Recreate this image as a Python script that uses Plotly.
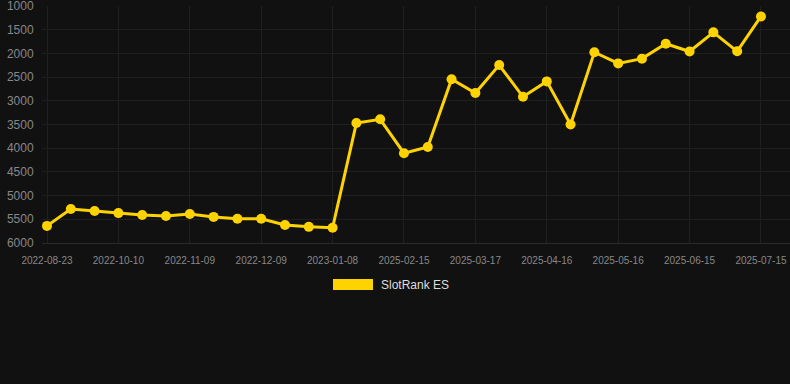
import plotly.graph_objects as go

dates = [
    "2022-08-23", "2022-09-10", "2022-09-30", "2022-10-10", "2022-10-20", "2022-10-30",
    "2022-11-09", "2022-11-19", "2022-11-29", "2022-12-09", "2022-12-19", "2022-12-29",
    "2023-01-08", "2025-01-26", "2025-02-05", "2025-02-15", "2025-02-25", "2025-03-07",
    "2025-03-17", "2025-03-27", "2025-04-06", "2025-04-16", "2025-04-26", "2025-05-06",
    "2025-05-16", "2025-05-26", "2025-06-05", "2025-06-15", "2025-06-25", "2025-07-05",
    "2025-07-15",
]
rank = [
    5640, 5285, 5325, 5370, 5410, 5430, 5390, 5450, 5490, 5490, 5620, 5660,
    5680, 3470, 3390, 4105, 3975, 2545, 2835, 2245, 2915, 2590, 3500, 1975,
    2210, 2110, 1795, 1960, 1555, 1955, 1220,
]
tick_labels = dates[::3]
y_ticks = [1000, 1500, 2000, 2500, 3000, 3500, 4000, 4500, 5000, 5500, 6000]
series_name = "SlotRank ES"
color = "#FFD300"

fig = go.Figure()
fig.add_trace(go.Scatter(
    x=list(range(len(dates))), y=rank, mode="lines+markers", name=series_name,
    line=dict(color=color, width=3), marker=dict(color=color, size=10),
    showlegend=False, hoverinfo="y", cliponaxis=False,
))

fig.update_layout(
    width=790, height=384,
    margin=dict(l=42, r=0, t=6, b=141),
    paper_bgcolor="#111111", plot_bgcolor="#111111",
    font=dict(family="Arial, Liberation Sans, sans-serif", color="#888888"),
    xaxis=dict(
        range=[-0.21, 31.22],
        tickmode="array", tickvals=list(range(0, len(dates), 3)), ticktext=tick_labels,
        showgrid=True, gridcolor="#1f1f1f", gridwidth=1,
        zeroline=False, showline=True, linecolor="#2a2a2a",
        tickfont=dict(size=10, color="#888888"), ticks="outside", ticklen=8,
        tickcolor="#111111", ticklabeloverflow="allow",
    ),
    yaxis=dict(
        range=[6001, 999], tickmode="array", tickvals=y_ticks,
        ticktext=[str(v) for v in y_ticks],
        showgrid=True, gridcolor="#1f1f1f", gridwidth=1, zeroline=False,
        tickfont=dict(size=12, color="#888888"), ticks="outside", ticklen=5,
        tickcolor="#111111", ticklabeloverflow="allow",
    ),
    shapes=[dict(type="rect", xref="paper", yref="paper",
                 x0=(333 - 42) / 748, x1=(373 - 42) / 748,
                 y0=(243 - 290) / 237, y1=(243 - 279) / 237,
                 fillcolor=color, line=dict(width=0))],
    annotations=[dict(text=series_name, xref="paper", yref="paper",
                      x=(379 - 42) / 748, y=(243 - 285) / 237,
                      xanchor="left", yanchor="middle", showarrow=False,
                      font=dict(size=12, color="#dddddd"))],
)

fig.write_html("out.html")
